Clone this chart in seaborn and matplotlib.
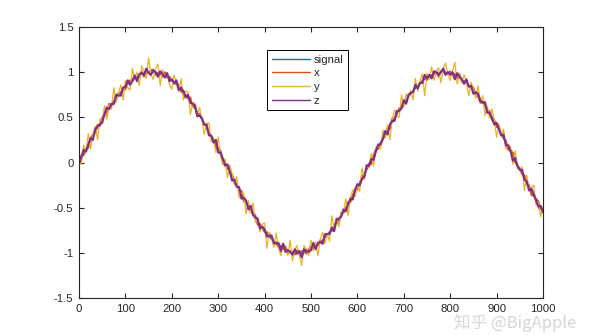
import numpy as np
import pandas as pd
import matplotlib
matplotlib.use("Agg")
import matplotlib.pyplot as plt
from matplotlib.ticker import FuncFormatter
import seaborn as sns

# Sample index (every 5th sample of a 1000-sample record)
step = 5

# Clean reference signal, one value per sample
signal = [
    0.00, 0.05, 0.10, 0.15, 0.20, 0.25, 0.30, 0.34, 0.39, 0.43,
    0.48, 0.52, 0.56, 0.61, 0.64, 0.68, 0.72, 0.75, 0.78, 0.81,
    0.84, 0.87, 0.89, 0.91, 0.93, 0.95, 0.96, 0.98, 0.99, 0.99,
    1.00, 1.00, 1.00, 1.00, 0.99, 0.98, 0.97, 0.96, 0.95, 0.93,
    0.91, 0.89, 0.86, 0.84, 0.81, 0.78, 0.75, 0.71, 0.68, 0.64,
    0.60, 0.56, 0.52, 0.47, 0.43, 0.38, 0.33, 0.29, 0.24, 0.19,
    0.14, 0.09, 0.04, -0.01, -0.06, -0.11, -0.16, -0.21, -0.26, -0.30,
    -0.35, -0.40, -0.44, -0.49, -0.53, -0.57, -0.61, -0.65, -0.69, -0.72,
    -0.76, -0.79, -0.82, -0.85, -0.87, -0.89, -0.92, -0.94, -0.95, -0.97,
    -0.98, -0.99, -0.99, -1.00, -1.00, -1.00, -1.00, -0.99, -0.98, -0.97,
    -0.96, -0.94, -0.93, -0.91, -0.88, -0.86, -0.83, -0.80, -0.77, -0.74,
    -0.71, -0.67, -0.63, -0.59, -0.55, -0.51, -0.46, -0.42, -0.37, -0.33,
    -0.28, -0.23, -0.18, -0.13, -0.08, -0.03, 0.02, 0.07, 0.12, 0.17,
    0.22, 0.26, 0.31, 0.36, 0.40, 0.45, 0.49, 0.54, 0.58, 0.62,
    0.66, 0.69, 0.73, 0.76, 0.79, 0.82, 0.85, 0.88, 0.90, 0.92,
    0.94, 0.95, 0.97, 0.98, 0.99, 0.99, 1.00, 1.00, 1.00, 0.99,
    0.99, 0.98, 0.97, 0.96, 0.94, 0.92, 0.90, 0.88, 0.85, 0.83,
    0.80, 0.77, 0.73, 0.70, 0.66, 0.62, 0.58, 0.54, 0.50, 0.46,
    0.41, 0.37, 0.32, 0.27, 0.22, 0.17, 0.12, 0.07, 0.02, -0.03,
    -0.08, -0.12, -0.17, -0.22, -0.27, -0.32, -0.37, -0.41, -0.46, -0.50,
    -0.54,
]

# Measurement noise of each channel, in hundredths
x_noise = [
    1, 3, -2, 0, -4, 2, 1, -1, 3, -3, 2, 0, -2, 4, -1, -3, 1, 2, -2, 0,
    -3, 1, 2, -1, 4, -2, 0, 3, -4, 1, -1, 2, 3, -3, 0, 1, -2, 4, -1, 2,
    0, -2, 3, 1, -3, 2, -1, 0, 4, -2, 1, -4, 2, 1, -1, 3, -2, 0, 2, -3,
    2, 4, -1, -3, 1, 0, 3, -2, 1, -1, 4, -3, 0, 2, -2, 1, 3, -4, 1, 0,
    -1, 2, 0, 3, -4, 1, -2, 2, -1, 4, -3, 1, 0, -2, 3, -1, 2, 0, -3, 1,
    3, -2, 1, 0, 2, -3, 4, -1, 0, -2, 2, 1, -4, 3, -1, 0, 2, -2, 1, 3,
    -2, 0, 3, -1, 1, 2, -4, 1, 3, -2, 0, 1, -1, 2, -3, 4, -1, 0, 2, -2,
    1, -3, 0, 2, -1, 3, -2, 1, 0, 4, -3, 2, -1, 0, 2, -4, 1, 3, -2, 0,
    2, -1, 1, -3, 4, -2, 0, 2, -1, 1, 3, -2, 0, -4, 2, 1, -1, 3, -3, 1,
    -2, 3, -1, 0, 2, -3, 1, 4, -2, 0, 1, -1, 3, -2, 2, -4, 0, 1, 3, -1,
    0,
]
y_noise = [
    4, -7, 9, -3, 12, -10, 2, 6, -14, 5, -2, 11, -8, 3, -5, 15, -6, 1, 8, -12,
    7, -4, -9, 13, -1, 5, -11, 9, 2, -6, 16, -3, -8, 4, 10, -13, 6, -2, 3, -7,
    -10, 8, 1, -5, 12, -9, 4, 7, -15, 2, 6, -4, 9, -1, -12, 5, 11, -6, 3, -8,
    14, -2, -7, 5, -11, 8, 3, -4, 10, -9, 1, 6, -13, 7, -3, 12, -5, 2, -8, 4,
    9, -16, 5, 3, -7, 11, -2, -9, 6, 1, -5, 13, -10, 4, 8, -3, -14, 7, 2, -6,
    10, -4, 5, -12, 3, 9, -7, 1, -10, 15, -2, 6, -8, 4, -1, 11, -13, 3, 7, -5,
    2, -9, 12, -6, 4, -3, 8, -11, 5, 1, -7, 10, -4, 6, -15, 3, 9, -2, -8, 13,
    -5, 7, -1, 4, -10, 11, -6, 2, 8, -18, 5, -3, 9, -7, 1, 6, -12, 4, 10, -2,
    -8, 3, 14, -9, 5, -4, 7, -1, -11, 6, 2, -6, 12, -3, 8, -10, 4, -5, 9, 1,
    -13, 6, -2, 10, -7, 3, 5, -9, 11, -4, 1, 7, -14, 8, -3, 4, 12, -6, 2, -10,
    5,
]
z_noise = [
    -2, 1, 4, -3, 0, 2, -5, 3, 1, -1, -4, 2, 5, -2, 1, -3, 3, -1, -4, 2,
    0, 4, -3, -1, 3, -5, 2, 1, -2, 5, -1, -3, 2, 0, -4, 3, 1, -2, 4, -3,
    1, -1, 5, -4, 2, 0, -3, 4, -2, 1, 3, -5, 0, 2, -1, 4, -3, 1, -2, 6,
    -3, 2, 0, -2, 4, 1, -4, 2, -1, 3, -5, 1, 2, -3, 5, -1, 0, 3, -4, 1,
    2, -3, 1, 4, -2, -1, 3, -4, 5, -2, 1, 0, -3, 4, -1, 2, -5, 3, 0, -2,
    -1, 5, -3, 2, 0, -4, 3, 1, -2, 2, -5, 4, 1, -1, 3, -3, 0, 2, -4, 3,
    4, -2, 0, -3, 5, -1, 2, -4, 1, 3, -2, 0, 4, -5, 2, 1, -3, 3, -1, -2,
    3, -4, 2, 1, -1, 4, -3, 0, -2, 5, -1, 2, -4, 3, 1, -2, 0, 4, -3, 1,
    -2, 2, -5, 3, 1, 0, -3, 4, -1, 2, -4, 1, 3, -2, 0, 5, -3, 1, -1, -4,
    3, 0, -2, 4, -3, 2, 1, -5, 3, -1, 0, 4, -2, 1, -4, 3, 2, -1, -3, 2,
    -1,
]

series_names = ["signal", "x", "y", "z"]
series_colors = ["#0072BD", "#D95319", "#EDB120", "#7E2F8E"]
series_widths = [1.0, 1.3, 0.9, 1.5]

x_ticks = list(range(0, 1001, 100))
y_ticks = [-1.5, -1, -0.5, 0, 0.5, 1, 1.5]

sig = np.array(signal)
channels = {
    "signal": sig,
    "x": sig + np.array(x_noise) / 100.0,
    "y": sig + np.array(y_noise) / 100.0,
    "z": sig + np.array(z_noise) / 100.0,
}
n = np.arange(len(sig)) * step

df = pd.concat(
    [pd.DataFrame({"n": n, "value": v, "series": k}) for k, v in channels.items()],
    ignore_index=True,
)

sns.set_style("white")
plt.rcParams["font.family"] = ["Liberation Sans", "DejaVu Sans"]
plt.rcParams["axes.unicode_minus"] = False

fig = plt.figure(figsize=(6.0, 3.35), dpi=100)
ax = fig.add_axes([0.1317, 0.1104, 0.7733, 0.809])

sns.lineplot(
    data=df, x="n", y="value", hue="series", hue_order=series_names,
    palette=series_colors, linewidth=1.0, estimator=None, sort=False, ax=ax,
)
for line, w in zip(ax.get_lines(), series_widths):
    line.set_linewidth(w)

ax.set_xlim(0, 1000)
ax.set_ylim(-1.5, 1.5)
ax.set_xticks(x_ticks)
ax.set_yticks(y_ticks)
ax.yaxis.set_major_formatter(FuncFormatter(lambda v, p: "%g" % v))
ax.set_xlabel("")
ax.set_ylabel("")

edge = "#262626"
for s in ax.spines.values():
    s.set_visible(True)
    s.set_color(edge)
    s.set_linewidth(0.8)
ax.tick_params(direction="in", length=3.5, width=0.8, color=edge,
               labelcolor=edge, labelsize=8.2, top=True, right=True,
               bottom=True, left=True, pad=4)

handles, labels = ax.get_legend_handles_labels()
leg = ax.legend(
    handles, labels, loc="upper left", bbox_to_anchor=(0.406, 0.915),
    frameon=True, fancybox=False, shadow=False, framealpha=1,
    edgecolor="#000000", fontsize=8.2, handlelength=3.3, handletextpad=0.35,
    labelspacing=0.32, borderpad=0.4, borderaxespad=0,
)
leg.get_frame().set_linewidth(0.7)
for line in leg.get_lines():
    line.set_linewidth(1.0)

fig.text(0.757, 0.035, "知乎 @BigApple", fontsize=12, color="#d2d2d2",
         alpha=0.9, va="center", ha="left",
         family=["Noto Sans CJK SC", "DejaVu Sans"])

fig.savefig("out.png", dpi=100, facecolor="white")
